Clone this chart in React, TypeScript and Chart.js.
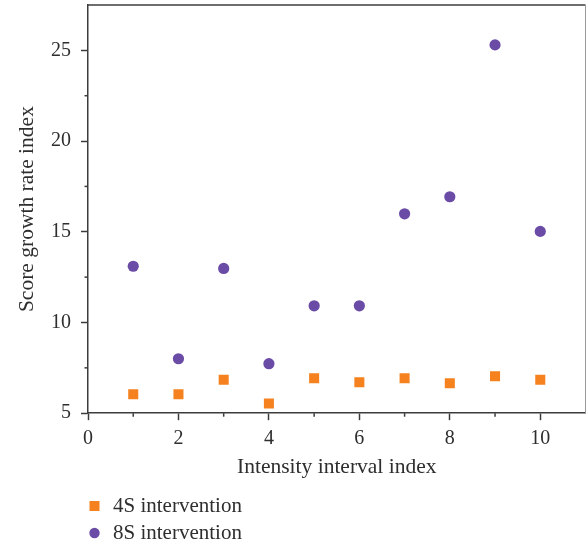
import React, { useEffect, useRef } from 'react';
import { Chart, registerables } from 'chart.js';

Chart.register(...registerables);

const xValues = [1, 2, 3, 4, 5, 6, 7, 8, 9, 10];
const series4S = [6.04, 6.05, 6.84, 5.54, 6.93, 6.71, 6.93, 6.65, 7.04, 6.84];
const series8S = [13.1, 8.0, 12.98, 7.73, 10.92, 10.92, 15.99, 16.93, 25.3, 15.02];
const seriesLabels = ['4S intervention', '8S intervention'];
const seriesColors = ['#F5821F', '#6A4BA6'];
const yMinorTicks = [7.5, 12.5, 17.5, 22.5];
const xMinorTicks = [1, 3, 5, 7, 9];
const xTitle = 'Intensity interval index';
const yTitle = 'Score growth rate index';

const FONT_FAMILY = '"Liberation Serif", "Times New Roman", serif';
const TEXT_COLOR = '#2e2e2e';
const AXIS_COLOR = '#3c3c3c';

const decorPlugin = {
  id: 'decor',
  afterDraw(chart: any) {
    const { ctx, chartArea } = chart;
    const xs = chart.scales.x;
    const ys = chart.scales.y;
    ctx.save();
    // top border
    ctx.strokeStyle = AXIS_COLOR;
    ctx.lineWidth = 1.5;
    ctx.beginPath();
    ctx.moveTo(chartArea.left, chartArea.top);
    ctx.lineTo(chartArea.right, chartArea.top);
    ctx.stroke();
    // right border
    ctx.strokeStyle = '#9a9a9a';
    ctx.lineWidth = 1;
    ctx.beginPath();
    ctx.moveTo(chartArea.right, chartArea.top);
    ctx.lineTo(chartArea.right, chartArea.bottom);
    ctx.stroke();
    // minor ticks
    ctx.strokeStyle = AXIS_COLOR;
    ctx.lineWidth = 1.5;
    yMinorTicks.forEach((v) => {
      const y = ys.getPixelForValue(v);
      ctx.beginPath();
      ctx.moveTo(chartArea.left - 3.5, y);
      ctx.lineTo(chartArea.left, y);
      ctx.stroke();
    });
    xMinorTicks.forEach((v) => {
      const x = xs.getPixelForValue(v);
      ctx.beginPath();
      ctx.moveTo(x, chartArea.bottom);
      ctx.lineTo(x, chartArea.bottom + 3.5);
      ctx.stroke();
    });
    // legend
    const ds = chart.data.datasets;
    ctx.font = `21px ${FONT_FAMILY}`;
    ctx.textBaseline = 'alphabetic';
    ctx.textAlign = 'left';
    const rows = [506, 533];
    ds.forEach((d: any, i: number) => {
      const cy = rows[i];
      const cx = 94.5;
      ctx.fillStyle = d.backgroundColor;
      if (d.pointStyle === 'rect') {
        ctx.fillRect(cx - 5, cy - 5, 10, 10);
      } else {
        ctx.beginPath();
        ctx.arc(cx, cy, 5.2, 0, Math.PI * 2);
        ctx.fill();
      }
      ctx.fillStyle = TEXT_COLOR;
      ctx.fillText(d.label, 113, cy + 5.5);
    });
    ctx.restore();
  },
};

export default function App() {
  const ref = useRef<HTMLCanvasElement | null>(null);
  useEffect(() => {
    document.body.style.margin = '0';
    const canvas = ref.current;
    if (!canvas) return;
    const font = { family: FONT_FAMILY, size: 20 };
    const titleFont = { family: FONT_FAMILY, size: 21.5 };
    const zeroPad = (s: any) => {
      s.paddingLeft = 0;
      s.paddingRight = 0;
      s.paddingTop = 0;
      s.paddingBottom = 0;
    };
    const chart = new Chart(canvas, {
      type: 'scatter',
      data: {
        datasets: [
          {
            label: seriesLabels[0],
            data: xValues.map((x, i) => ({ x, y: series4S[i] })),
            backgroundColor: seriesColors[0],
            borderColor: seriesColors[0],
            borderWidth: 0,
            pointStyle: 'rect',
            pointRadius: 7.1,
          },
          {
            label: seriesLabels[1],
            data: xValues.map((x, i) => ({ x, y: series8S[i] })),
            backgroundColor: seriesColors[1],
            borderColor: seriesColors[1],
            borderWidth: 0,
            pointStyle: 'circle',
            pointRadius: 5.6,
          },
        ],
      },
      options: {
        responsive: false,
        animation: false,
        layout: { autoPadding: false, padding: { top: 5, right: 1.5, bottom: 63, left: 5 } },
        plugins: {
          legend: { display: false },
          tooltip: { enabled: false },
        },
        scales: {
          x: {
            type: 'linear',
            min: 0,
            max: 11,
            afterFit: zeroPad,
            ticks: {
              stepSize: 2,
              includeBounds: false,
              font,
              color: TEXT_COLOR,
              padding: 7,
              maxRotation: 0,
            },
            grid: {
              drawOnChartArea: false,
              drawTicks: true,
              tickLength: 7,
              tickColor: AXIS_COLOR,
              tickWidth: 1.5,
            },
            border: { color: AXIS_COLOR, width: 1.5 },
            title: {
              display: true,
              text: xTitle,
              font: titleFont,
              color: TEXT_COLOR,
              padding: { top: -4, bottom: 2 },
            },
          },
          y: {
            type: 'linear',
            min: 5,
            max: 27.5,
            afterFit: zeroPad,
            ticks: {
              stepSize: 5,
              includeBounds: false,
              font,
              color: TEXT_COLOR,
              padding: 10,
            },
            grid: {
              drawOnChartArea: false,
              drawTicks: true,
              tickLength: 7,
              tickColor: AXIS_COLOR,
              tickWidth: 1.5,
            },
            border: { color: AXIS_COLOR, width: 1.5 },
            title: {
              display: true,
              text: yTitle,
              font: titleFont,
              color: TEXT_COLOR,
              padding: { top: 9, bottom: 1.2 },
            },
          },
        },
      },
      plugins: [decorPlugin],
    });
    return () => chart.destroy();
  }, []);
  return <canvas ref={ref} width={587} height={545} style={{ display: 'block' }} />;
}
